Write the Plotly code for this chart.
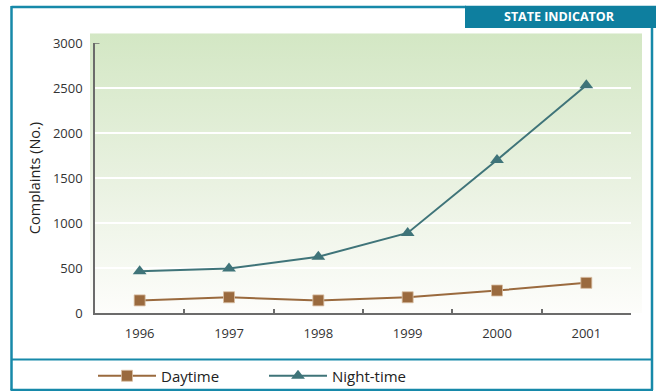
import base64
import plotly.graph_objects as go

# Noise complaints by year
years = ["1996", "1997", "1998", "1999", "2000", "2001"]
daytime = [140, 175, 140, 175, 250, 335]
night_time = [465, 495, 625, 890, 1700, 2530]
y_ticks = [0, 500, 1000, 1500, 2000, 2500, 3000]

W, H = 659, 391
ML, MR, MT, MB = 95, 28, 43, 78
PW, PH = W - ML - MR, H - MT - MB

TEAL = "#1789a9"
BROWN = "#9a6a3e"
SLATE = "#3f7479"
AXIS = "#6b6b6b"
FONT = "Open Sans"


def px_x(x):
    return (x - ML) / PW


def px_y(y):
    return (H - MB - y) / PH


# vertical green wash behind the plot
svg = (
    '<svg xmlns="http://www.w3.org/2000/svg" width="100" height="100" preserveAspectRatio="none">'
    '<defs><linearGradient id="g" x1="0" y1="0" x2="0" y2="1">'
    '<stop offset="0" stop-color="#d3e7c4"/>'
    '<stop offset="0.55" stop-color="#eaf2e2"/>'
    '<stop offset="1" stop-color="#fdfdfb"/>'
    '</linearGradient></defs>'
    '<rect width="100" height="100" fill="url(#g)"/></svg>'
)
wash = "data:image/svg+xml;base64," + base64.b64encode(svg.encode()).decode()

fig = go.Figure()
fig.add_trace(go.Scatter(
    x=years, y=daytime, name="Daytime", mode="lines+markers",
    line=dict(color=BROWN, width=2),
    marker=dict(symbol="square", size=11, color=BROWN,
                line=dict(color="#d9bfa3", width=0.8)),
))
fig.add_trace(go.Scatter(
    x=years, y=night_time, name="Night-time", mode="lines+markers",
    line=dict(color=SLATE, width=2),
    marker=dict(symbol="triangle-up", size=12, color=SLATE),
))


def pline(x0, y0, x1, y1, width, color=TEAL):
    return dict(type="line", xref="paper", yref="paper",
                x0=px_x(x0), x1=px_x(x1), y0=px_y(y0), y1=px_y(y1),
                line=dict(color=color, width=width))


shapes = [
    # outer frame
    pline(11.5, 7, 466, 7, 2.5),
    pline(11.5, 6, 11.5, 390, 2.5),
    pline(652, 6, 652, 390, 2.5),
    pline(10.5, 390, 653, 390, 2.5),
    # separator above the legend
    pline(11.5, 359.5, 652, 359.5, 2),
    # header tab
    dict(type="rect", xref="paper", yref="paper",
         x0=px_x(465), x1=px_x(656), y0=px_y(5.8), y1=px_y(28),
         fillcolor="#0e7f9f", line=dict(width=0)),
    # small corner tick at the top of the value axis
    dict(type="line", xref="paper", yref="y", x0=0, x1=px_x(99.5), y0=3000, y1=3000,
         line=dict(color=AXIS, width=1.5)),
]

fig.update_layout(
    width=W, height=H,
    margin=dict(l=ML, r=MR, t=MT, b=MB, autoexpand=False),
    paper_bgcolor="white",
    plot_bgcolor="rgba(0,0,0,0)",
    font=dict(family=FONT, color="#333333", size=13),
    showlegend=True,
    legend=dict(
        orientation="h", x=px_x(93), y=px_y(376), xanchor="left", yanchor="middle",
        font=dict(size=15, color="#222222", family=FONT),
        entrywidth=98, itemwidth=58, bgcolor="rgba(0,0,0,0)",
    ),
    shapes=shapes,
    images=[dict(
        source=wash, xref="paper", yref="paper",
        x=px_x(90), y=px_y(33.3), sizex=(642 - 90) / PW, sizey=(313 - 33.3) / PH,
        xanchor="left", yanchor="top", sizing="stretch", layer="below",
    )],
    annotations=[dict(
        text="<b>STATE INDICATOR</b>", xref="paper", yref="paper",
        x=px_x(559), y=px_y(17), xanchor="center", yanchor="middle",
        showarrow=False, font=dict(color="white", size=12.5, family=FONT),
    )],
)

fig.update_xaxes(
    type="category", range=[-0.5, 5.5], automargin=False,
    showline=True, linecolor=AXIS, linewidth=2,
    ticks="inside", tickson="boundaries", ticklen=4, tickcolor=AXIS, tickwidth=1.5,
    showgrid=False, zeroline=False, ticklabelstandoff=7,
    tickfont=dict(size=13, color="#333333"),
)
fig.update_yaxes(
    range=[0, 3000], tickvals=y_ticks, automargin=False,
    showline=True, linecolor=AXIS, linewidth=1.5,
    ticks="", showgrid=True, gridcolor="white", gridwidth=1.5, zeroline=False,
    ticklabelstandoff=8,
    tickfont=dict(size=13, color="#333333"),
    title=dict(text="Complaints (No.)", font=dict(size=14.5, color="#222222"), standoff=9),
)

fig.write_html("out.html")
